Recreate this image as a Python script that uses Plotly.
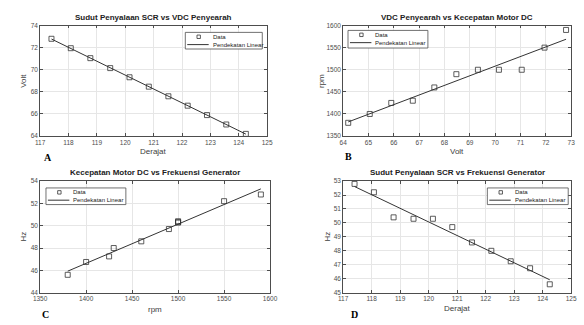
import numpy as np
import plotly.graph_objects as go

# ---- data ----
derajat = [117.4, 118.08, 118.77, 119.47, 120.15, 120.83, 121.52, 122.2, 122.88, 123.56, 124.25]
volt = [72.8, 71.95, 71.05, 70.15, 69.32, 68.47, 67.6, 66.75, 65.9, 65.05, 64.2]
rpm = [1590, 1550, 1500, 1500, 1500, 1490, 1460, 1430, 1425, 1400, 1380]
hz = [52.8, 52.2, 50.4, 50.3, 50.3, 49.7, 48.6, 48.0, 47.25, 46.75, 45.6]

titles = ["Sudut Penyalaan SCR vs VDC Penyearah",
          "VDC Penyearah vs Kecepatan Motor DC",
          "Kecepatan Motor DC vs Frekuensi Generator",
          "Sudut Penyalaan SCR vs Frekuensi Generator"]
xlabels = ["Derajat", "Volt", "rpm", "Derajat"]
ylabels = ["Volt", "rpm", "Hz", "Hz"]
panel_letters = ["A", "B", "C", "D"]
legend_names = ["Data", "Pendekatan Linear"]

pairs = [(derajat, volt), (volt, rpm), (rpm, hz), (derajat, hz)]
xranges = [[117, 125], [64, 73], [1350, 1600], [117, 125]]
yranges = [[64, 74], [1350, 1600], [44, 54], [45, 53]]
xdticks = [1, 1, 50, 1]
ydticks = [2, 50, 2, 1]

W, H = 584, 325
# axes boxes in pixels: (left, right, top, bottom)
boxes = [(34, 267, 22, 135), (345, 579, 22, 135), (34, 270, 181, 295), (345, 579, 181, 295)]
# legend boxes in pixels: (left, top, right, bottom)
legend_boxes = [(183, 29, 262, 46), (350, 27, 432, 45), (40, 188, 122, 205), (493, 188, 576, 205)]
letter_pos = [(42, 157), (350, 156), (40, 317), (357, 317)]
xlabel_pos = [(150, 151), (462, 151), (152, 312), (462, 311)]
ylabel_pos = [(17, 79), (323, 79), (17, 238), (329, 238)]

fig = go.Figure()
dark = "#333333"
axcol = "#4d4d4d"
FONT = "Liberation Sans, Arial"


def px(xp):
    return xp / W


def py(yp):
    return 1 - yp / H


for i, ((xs, ys), box) in enumerate(zip(pairs, boxes)):
    n = i + 1
    xa = "x" if n == 1 else f"x{n}"
    ya = "y" if n == 1 else f"y{n}"
    xs_a = np.array(xs, dtype=float)
    ys_a = np.array(ys, dtype=float)
    m, c = np.polyfit(xs_a, ys_a, 1)
    xf = np.array([xs_a.min(), xs_a.max()])
    fig.add_trace(go.Scatter(x=xs, y=ys, mode="markers", name=legend_names[0],
                             marker=dict(symbol="square-open", size=5, color=dark,
                                         line=dict(width=0.8, color=dark)),
                             xaxis=xa, yaxis=ya, showlegend=False))
    fig.add_trace(go.Scatter(x=xf, y=m * xf + c, mode="lines", name=legend_names[1],
                             line=dict(color=dark, width=1),
                             xaxis=xa, yaxis=ya, showlegend=False))
    l, r, t, b = box
    axis_common = dict(showline=True, linecolor=axcol, linewidth=0.8, mirror="ticks",
                       ticks="inside", ticklen=3, tickcolor=axcol, tickwidth=0.7,
                       showgrid=True, gridcolor="#e6e6e6", gridwidth=0.7, zeroline=False,
                       tickfont=dict(family=FONT, size=6.5, color="#4d4d4d"))
    fig.layout[f"xaxis{'' if n == 1 else n}"] = dict(
        domain=[px(l), px(r)], anchor=ya, range=xranges[i], dtick=xdticks[i],
        tick0=xranges[i][0], **axis_common)
    fig.layout[f"yaxis{'' if n == 1 else n}"] = dict(
        domain=[py(b), py(t)], anchor=xa, range=yranges[i], dtick=ydticks[i],
        tick0=yranges[i][0], **axis_common)

    # axis titles
    xlx, xly = xlabel_pos[i]
    fig.add_annotation(text=xlabels[i], x=px(xlx), y=py(xly), xref="paper", yref="paper",
                       xanchor="center", yanchor="middle", showarrow=False,
                       font=dict(family=FONT, size=8, color="#404040"))
    ylx, yly = ylabel_pos[i]
    fig.add_annotation(text=ylabels[i], x=px(ylx), y=py(yly), xref="paper", yref="paper",
                       xanchor="center", yanchor="middle", showarrow=False, textangle=-90,
                       font=dict(family=FONT, size=8, color="#404040"))

    # custom compact legend (MATLAB style)
    L, T, R, B = legend_boxes[i]
    fig.add_shape(type="rect", xref="paper", yref="paper", x0=px(L), x1=px(R), y0=py(B), y1=py(T),
                  line=dict(color=axcol, width=0.8), fillcolor="white", layer="above")
    r1 = T + 4.5
    r2 = T + 12.5
    fig.add_shape(type="rect", xref="paper", yref="paper", x0=px(L + 12), x1=px(L + 15.5),
                  y0=py(r1 + 1.75), y1=py(r1 - 1.75), line=dict(color=dark, width=0.8),
                  layer="above")
    fig.add_shape(type="line", xref="paper", yref="paper", x0=px(L + 2), x1=px(L + 24),
                  y0=py(r2), y1=py(r2), line=dict(color=dark, width=1), layer="above")
    for txt, yy in ((legend_names[0], r1), (legend_names[1], r2)):
        fig.add_annotation(text=txt, x=px(L + 26), y=py(yy), xref="paper", yref="paper",
                           xanchor="left", yanchor="middle", showarrow=False,
                           font=dict(family=FONT, size=6, color="#222"))

    # title
    fig.add_annotation(text=f"<b>{titles[i]}</b>", x=px((l + r) / 2), y=py(t - 2),
                       xref="paper", yref="paper", xanchor="center", yanchor="bottom",
                       showarrow=False,
                       font=dict(family=FONT, size=8, color="#222"))
    lx, ly = letter_pos[i]
    fig.add_annotation(text=f"<b>{panel_letters[i]}</b>", x=px(lx), y=py(ly),
                       xref="paper", yref="paper", xanchor="center", yanchor="middle",
                       showarrow=False,
                       font=dict(family="Liberation Serif, Times New Roman", size=10, color="#000"))

fig.update_layout(width=W, height=H, margin=dict(l=0, r=0, t=0, b=0),
                  paper_bgcolor="white", plot_bgcolor="white", showlegend=False)

fig.write_html("out.html", config={"displayModeBar": False},
               post_script="document.body.style.margin='0';document.body.style.overflow='hidden';")
